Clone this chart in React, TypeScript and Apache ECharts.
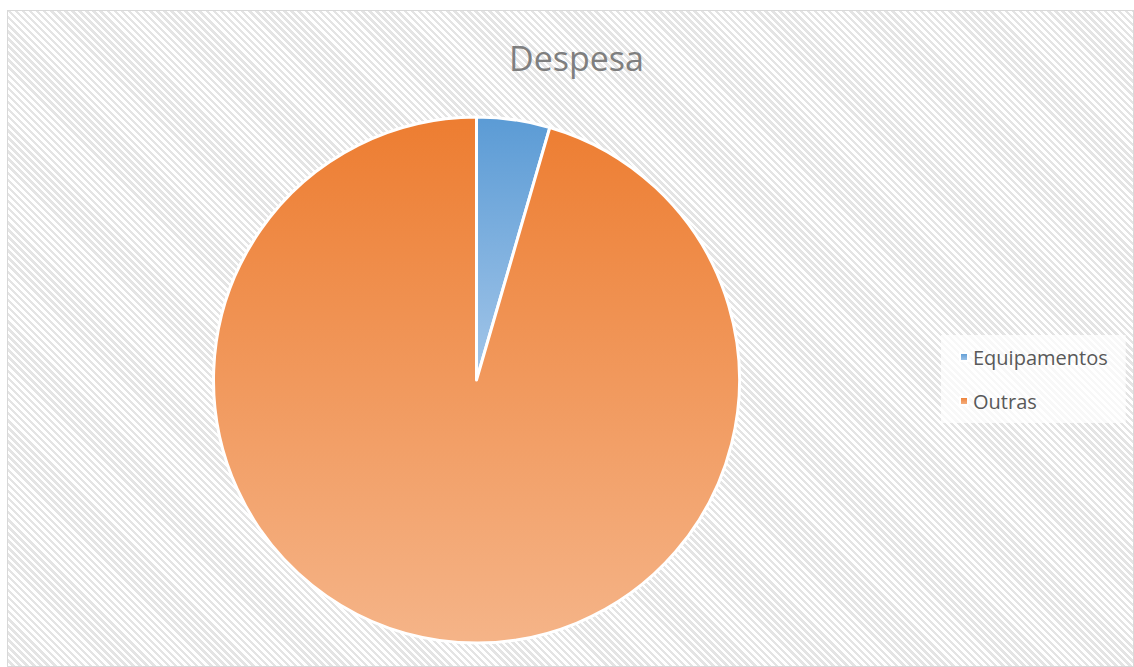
import React, { useEffect, useRef } from "react";
import * as echarts from "echarts";

const categories = ["Equipamentos", "Outras"];
const values = [4.5, 95.5];
const topColors = ["#5b9bd5", "#ed7d31"];
const bottomColors = ["#a3c6e9", "#f5b488"];

export default function App() {
  const ref = useRef<HTMLDivElement>(null);
  useEffect(() => {
    if (!ref.current) return;
    const chart = echarts.init(ref.current, null, { renderer: "svg" });
    chart.setOption({
      animation: false,
      title: {
        text: "Despesa",
        left: 496,
        top: 25,
        textStyle: {
          fontFamily: "Open Sans",
          fontSize: 34,
          fontWeight: "normal",
          color: "#7f7f7f",
        },
      },
      legend: {
        orient: "vertical",
        left: 933,
        top: 324,
        padding: [12, 18, 12, 18],
        backgroundColor: "rgba(255,255,255,0.75)",
        itemWidth: 8,
        itemHeight: 8,
        itemGap: 24,
        icon: "rect",
        textStyle: { fontFamily: "Open Sans", fontSize: 20, color: "#595959" },
        data: categories,
      },
      series: [
        {
          type: "pie",
          center: [468.5, 369],
          radius: 263,
          startAngle: 90,
          clockwise: true,
          label: { show: false },
          labelLine: { show: false },
          emphasis: { disabled: true },
          itemStyle: { borderColor: "#ffffff", borderWidth: 3 },
          data: categories.map((name, i) => ({
            name,
            value: values[i],
            itemStyle: {
              color: new echarts.graphic.LinearGradient(0, 0, 0, 1, [
                { offset: 0, color: topColors[i] },
                { offset: 1, color: bottomColors[i] },
              ]),
            },
          })),
        },
      ],
    });
    return () => chart.dispose();
  }, []);
  return (
    <div
      style={{
        position: "fixed",
        left: 7,
        top: 10,
        width: 1127,
        height: 657,
        boxSizing: "border-box",
        border: "1px solid #d9d9d9",
        background:
          "repeating-linear-gradient(45deg, #ffffff 0px, #ffffff 2.5px, #e4e4e4 2.5px, #e4e4e4 5px)",
      }}
    >
      <div ref={ref} style={{ width: 1125, height: 655 }} />
    </div>
  );
}
